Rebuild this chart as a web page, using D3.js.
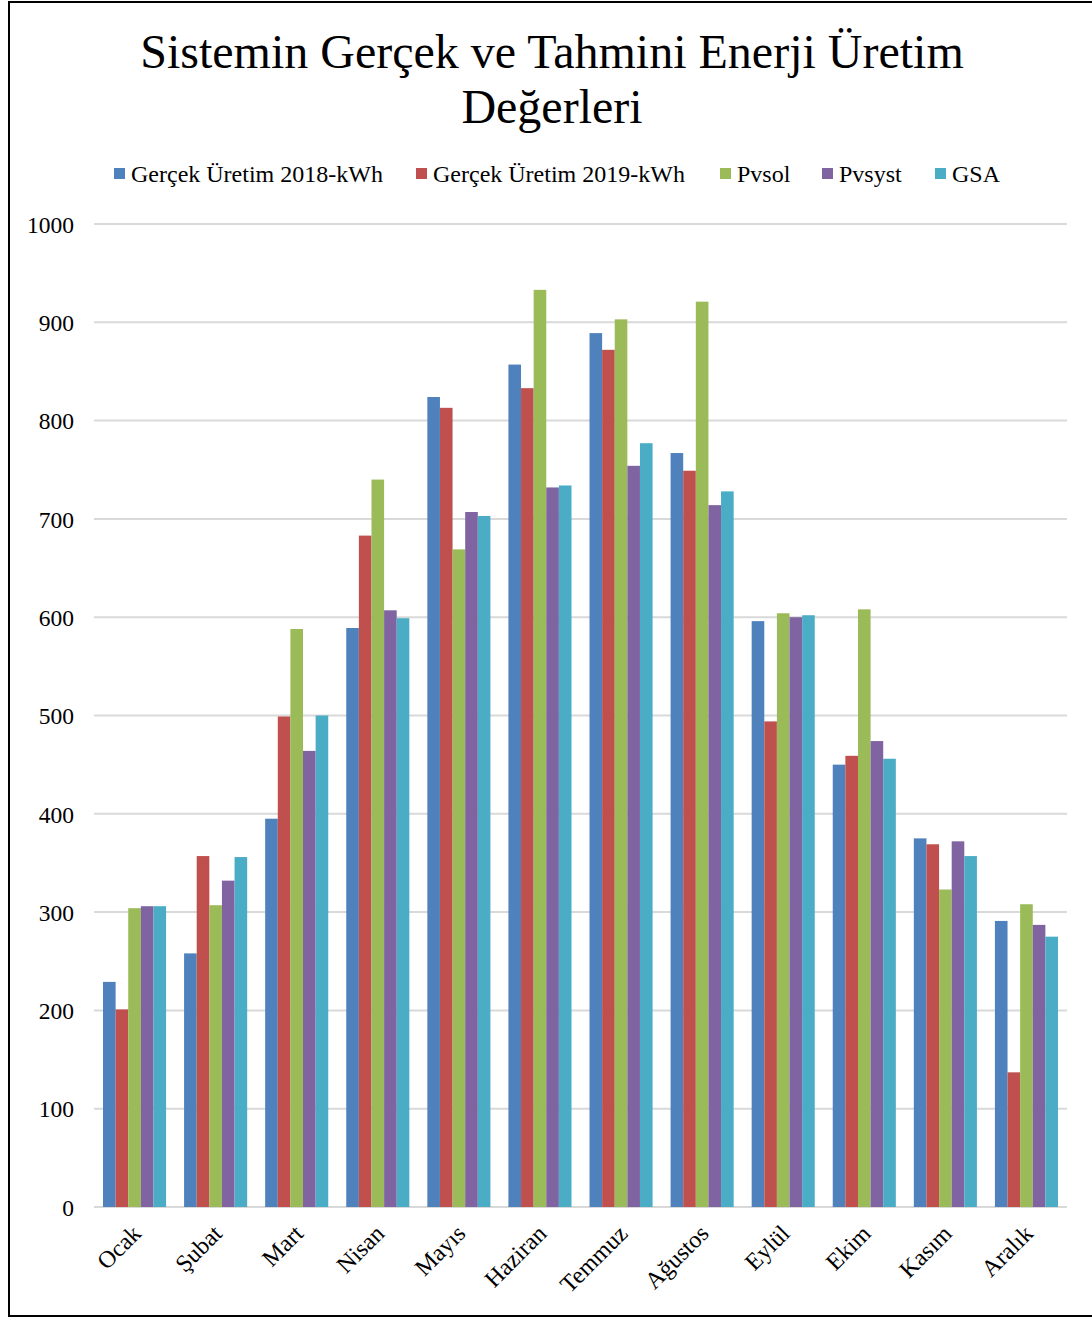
<!DOCTYPE html>
<html>
<head>
<meta charset="utf-8">
<script src="https://cdn.jsdelivr.net/npm/d3@7"></script>
<style>
  html, body { margin: 0; padding: 0; background: #fff; }
  svg { display: block; }
  text { font-family: "Liberation Serif", "Times New Roman", serif; fill: #000; }
</style>
</head>
<body>
<svg id="chart" width="1092" height="1318"></svg>
<script>
// Monthly energy output (kWh): measured 2018 / 2019 and three simulation tools
const months = ["Ocak", "Şubat", "Mart", "Nisan", "Mayıs", "Haziran", "Temmuz", "Ağustos", "Eylül", "Ekim", "Kasım", "Aralık"];
const seriesNames = ["Gerçek Üretim 2018-kWh", "Gerçek Üretim 2019-kWh", "Pvsol", "Pvsyst", "GSA"];
const seriesColors = ["#4F81BD", "#C0504D", "#9BBB59", "#8064A2", "#4BACC6"];

const real2018 = [229, 258, 395, 589, 824, 857, 889, 767, 596, 450, 375, 291];
const real2019 = [201, 357, 499, 683, 813, 833, 872, 749, 494, 459, 369, 137];
const pvsol    = [304, 307, 588, 740, 669, 933, 903, 921, 604, 608, 323, 308];
const pvsyst   = [306, 332, 464, 607, 707, 732, 754, 714, 600, 474, 372, 287];
const gsa      = [306, 356, 500, 599, 703, 734, 777, 728, 602, 456, 357, 275];

const yTicks = [0, 100, 200, 300, 400, 500, 600, 700, 800, 900, 1000];

const seriesValues = [real2018, real2019, pvsol, pvsyst, gsa];

const svg = d3.select("#chart");

// outer frame
svg.append("rect")
  .attr("x", 9).attr("y", 2)
  .attr("width", 1100).attr("height", 1314)
  .attr("fill", "#fff").attr("stroke", "#000").attr("stroke-width", 2);

// title
const title = svg.append("text")
  .attr("text-anchor", "middle")
  .attr("font-size", 48);
title.append("tspan").attr("x", 552).attr("y", 68).text("Sistemin Gerçek ve Tahmini Enerji Üretim");
title.append("tspan").attr("x", 552).attr("y", 123).text("Değerleri");

// legend
const legendX = [114, 416, 720, 822, 935];
const legend = svg.append("g");
seriesNames.forEach((name, i) => {
  legend.append("rect")
    .attr("x", legendX[i]).attr("y", 168)
    .attr("width", 11).attr("height", 11)
    .attr("fill", seriesColors[i]);
  legend.append("text")
    .attr("x", legendX[i] + 17).attr("y", 182)
    .attr("font-size", 24)
    .text(name);
});

// plot area
const plotLeft = 94, plotRight = 1067, plotTop = 224, plotBottom = 1207;

const y = d3.scaleLinear().domain([0, 1000]).range([plotBottom, plotTop]);
const x0 = d3.scaleBand().domain(months).range([plotLeft, plotRight]).paddingInner(0.222).paddingOuter(0.111);
const x1 = d3.scaleBand().domain(d3.range(seriesNames.length)).range([0, x0.bandwidth()]);

// gridlines
svg.append("g")
  .selectAll("line")
  .data(yTicks)
  .join("line")
  .attr("x1", plotLeft).attr("x2", plotRight)
  .attr("y1", d => y(d)).attr("y2", d => y(d))
  .attr("stroke", "#D9D9D9").attr("stroke-width", 2);

// y axis labels
const yAxis = d3.axisLeft(y).tickValues(yTicks).tickFormat(d3.format("d")).tickSize(0).tickPadding(20);
const yg = svg.append("g").attr("transform", `translate(${plotLeft},0)`).call(yAxis);
yg.select(".domain").remove();
yg.selectAll("text")
  .attr("font-size", 23.5)
  .attr("font-family", "Liberation Serif, Times New Roman, serif")
  .attr("fill", "#000")
  .attr("dy", "0.35em");

// bars
const groups = svg.append("g")
  .selectAll("g")
  .data(months)
  .join("g")
  .attr("transform", d => `translate(${x0(d)},0)`);

groups.selectAll("rect")
  .data((m, mi) => seriesValues.map((vals, si) => ({ si, v: vals[mi] })))
  .join("rect")
  .attr("x", d => x1(d.si))
  .attr("width", x1.bandwidth())
  .attr("y", d => y(d.v))
  .attr("height", d => y(0) - y(d.v))
  .attr("fill", d => seriesColors[d.si]);

// x axis labels, rotated
const xAxis = d3.axisBottom(x0).tickSize(0).tickPadding(0);
const xg = svg.append("g").attr("transform", `translate(0,${plotBottom})`).call(xAxis);
xg.select(".domain").remove();
xg.selectAll("text")
  .attr("font-size", 24)
  .attr("font-family", "Liberation Serif, Times New Roman, serif")
  .attr("fill", "#000")
  .attr("text-anchor", "end")
  .attr("dy", "0.35em")
  .attr("transform", "translate(2,22) rotate(-45)");
</script>
</body>
</html>
